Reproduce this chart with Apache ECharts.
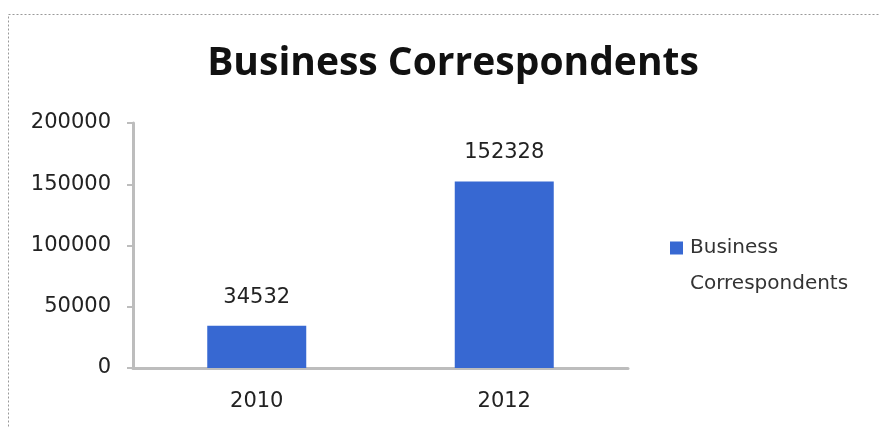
<!DOCTYPE html>
<html><head><meta charset="utf-8">
<script src="https://cdn.jsdelivr.net/npm/echarts@6/dist/echarts.min.js"></script>
<style>html,body{margin:0;padding:0;background:#fff}#c{width:879px;height:428px}</style>
</head><body><div id="c"></div>
<script>
const categories = ['2010', '2012'];
const values = [34532, 152328];
const seriesName = 'Business Correspondents';
const titleText = 'Business Correspondents';
const legendLines = ['Business', 'Correspondents'];

const chart = echarts.init(document.getElementById('c'));
chart.setOption({
  animation: false,
  backgroundColor: '#fff',
  title: {
    text: titleText, left: 448, top: 39, textAlign: 'center',
    textStyle: { fontFamily: 'Open Sans', fontWeight: 'bold', fontSize: 39, color: '#111' }
  },
  graphic: [{
    type: 'rect', shape: { x: 8.5, y: 14.5, width: 900, height: 500 },
    style: { fill: 'none', stroke: '#999', lineWidth: 1, lineDash: [2, 2] }
  }, {
    type: 'text', left: 690, top: 274,
    style: { text: legendLines[1], font: '20px "DejaVu Sans"', fill: '#333' }
  }],
  legend: {
    orient: 'vertical', left: 670, top: 238, itemWidth: 13, itemHeight: 13, itemGap: 4, padding: 0,
    data: [{ name: seriesName, icon: 'rect' }],
    formatter: () => legendLines[0],
    textStyle: { fontFamily: 'DejaVu Sans', fontSize: 20, color: '#333', padding: [0, 0, 0, 2] }
  },
  grid: { left: 133, top: 123, right: 251, bottom: 60 },
  xAxis: {
    type: 'category', data: categories,
    axisLine: { lineStyle: { color: '#bdbdbd', width: 3 } },
    axisTick: { show: false },
    axisLabel: { fontFamily: 'DejaVu Sans', fontSize: 21, color: '#222', margin: 23 }
  },
  yAxis: {
    type: 'value', min: 0, max: 200000, interval: 50000,
    axisLine: { show: true, lineStyle: { color: '#bdbdbd', width: 3 } },
    axisTick: { show: true, length: 6, lineStyle: { color: '#bdbdbd', width: 2 } },
    splitLine: { show: false },
    axisLabel: { fontFamily: 'DejaVu Sans', fontSize: 21, color: '#222', margin: 22, formatter: v => String(v) }
  },
  series: [{
    name: seriesName, type: 'bar', data: values, barWidth: '40%',
    itemStyle: { color: '#3768d2' },
    label: { show: true, position: 'top', distance: 18, fontFamily: 'DejaVu Sans', fontSize: 21, color: '#222' }
  }]
});
</script></body></html>
